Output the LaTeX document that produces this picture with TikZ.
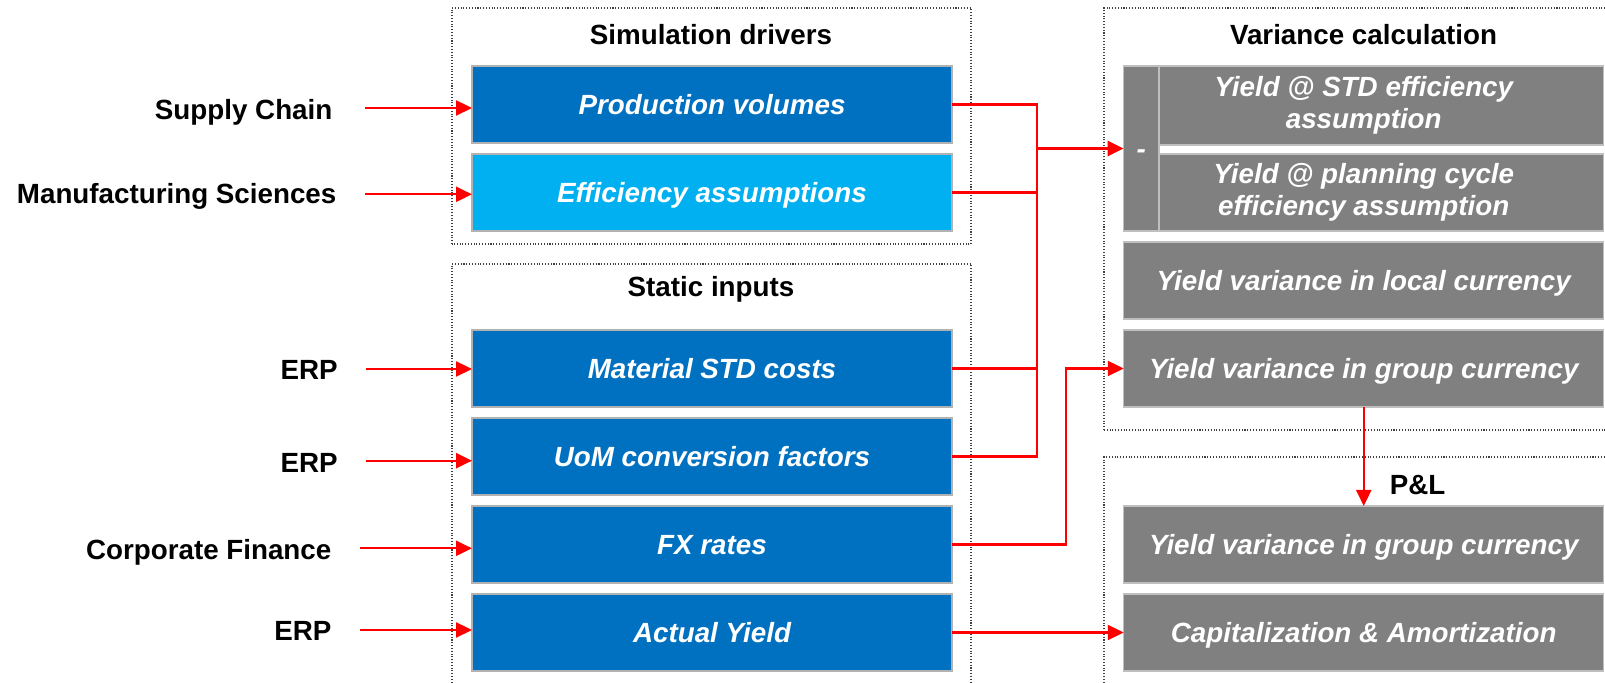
\documentclass[tikz,border=0pt]{standalone}
\usepackage{fontspec}
\setmainfont{Liberation Sans}
\usetikzlibrary{arrows.meta}
\definecolor{bluedark}{RGB}{0,112,192}
\definecolor{bluelight}{RGB}{0,176,240}
\definecolor{greybox}{RGB}{128,128,128}
\definecolor{redline}{RGB}{255,0,0}

\begin{document}
\begin{tikzpicture}[
      box/.style={minimum width=9.6cm,minimum height=1.54cm,inner sep=0pt,outer sep=0pt,draw=black!30,line width=0.6pt,align=center,text=white,font=\fontsize{15.8}{18.2}\selectfont\bfseries\itshape},
      oneline/.style={text height=18.96pt,text depth=7.65pt},
      bluebox/.style={box,oneline,fill=bluedark},
      cyanbox/.style={box,oneline,fill=bluelight},
      greybx/.style={box,oneline,fill=greybox,draw=black!25},
      greybxtwo/.style={box,fill=greybox,draw=black!25,execute at begin node={\rule{0pt}{15pt}}},
      lbl/.style={anchor=base east,inner sep=0pt,font=\fontsize{15.8}{18.2}\selectfont\bfseries},
      ttl/.style={anchor=base,inner sep=0pt,font=\fontsize{15.8}{18.2}\selectfont\bfseries},
      frame/.style={draw=black!75,densely dotted,line width=0.6pt},
      conn/.style={draw=redline,line width=1.3pt},
      arr/.style={conn,-{Triangle[length=0.32cm,width=0.3cm]}}
    ]
      \useasboundingbox (0,0) rectangle (32.1,13.66);
      \clip (0,0) rectangle (32.1,13.66);
      % Dotted frames (run off the page at right and bottom)
      \draw[frame] (9.04,8.78) rectangle (19.42,13.5);
      \draw[frame] (9.04,-0.5) rectangle (19.42,8.38);
      \draw[frame] (22.08,5.06) rectangle (32.6,13.5);
      \draw[frame] (22.08,-0.5) rectangle (32.6,4.52);
      % Frame titles
      \node[ttl] (tsim) at (14.22,12.77) {Simulation drivers};
      \node[ttl] (tstat) at (14.22,7.72) {Static inputs};
      \node[ttl] (tvar) at (27.27,12.77) {Variance calculation};
      \node[ttl] (tpl) at (28.35,3.77) {P\&L};
      % Input boxes
      \node[bluebox] (prod) at (14.24,11.57) {Production volumes};
      \node[cyanbox] (eff) at (14.24,9.81) {Efficiency assumptions};
      \node[bluebox] (mat) at (14.24,6.29) {Material STD costs};
      \node[bluebox] (uom) at (14.24,4.53) {UoM conversion factors};
      \node[bluebox] (fx) at (14.24,2.77) {FX rates};
      \node[bluebox] (act) at (14.24,1.01) {Actual Yield};
      % Variance calculation boxes
      \node[greybxtwo,minimum height=1.58cm] (ystd) at (27.275,11.55) {Yield @ STD efficiency\\assumption};
      \node[greybxtwo] (yplan) at (27.275,9.81) {Yield @ planning cycle\\efficiency assumption};
      \node[greybx,minimum width=0.71cm,minimum height=3.3cm] (minus) at (22.825,10.69) {-};
      \node[greybx] (ylc) at (27.275,8.05) {Yield variance in local currency};
      \node[greybx] (ygc) at (27.275,6.29) {Yield variance in group currency};
      % P&L boxes
      \node[greybx] (plgc) at (27.275,2.77) {Yield variance in group currency};
      \node[greybx] (cap) at (27.275,1.01) {Capitalization \& Amortization};
      % Sources
      \coordinate (s1) at (7.3,11.5);
      \coordinate (s2) at (7.3,9.774);
      \coordinate (s3) at (7.32,6.28);
      \coordinate (s4) at (7.32,4.446);
      \coordinate (s5) at (7.19,2.694);
      \coordinate (s6) at (7.19,1.06);
      \node[lbl] (lsc) at (6.654,11.274) {Supply Chain};
      \node[lbl] (lms) at (6.734,9.58) {Manufacturing Sciences};
      \node[lbl] (lerpa) at (6.76,6.074) {ERP};
      \node[lbl] (lerpb) at (6.76,4.206) {ERP};
      \node[lbl] (lcf) at (6.634,2.474) {Corporate Finance};
      \node[lbl] (lerpc) at (6.634,0.846) {ERP};
      \draw[arr] (s1) -- (s1 -| prod.west);
      \draw[arr] (s2) -- (s2 -| eff.west);
      \draw[arr] (s3) -- (s3 -| mat.west);
      \draw[arr] (s4) -- (s4 -| uom.west);
      \draw[arr] (s5) -- (s5 -| fx.west);
      \draw[arr] (s6) -- (s6 -| act.west);
      % Connectors to the right column
      \coordinate (bus) at (20.74,0);
      \coordinate (fxbend) at (21.32,0);
      \draw[conn] (prod.east) -| (bus |- uom.east) -- (uom.east);
      \draw[conn] (eff.east) -- (bus |- eff.east);
      \draw[conn] (mat.east) -- (bus |- mat.east);
      \draw[arr,line width=1.7pt] (bus |- minus.west) -- (minus.west);
      \draw[arr] (fx.east) -| (fxbend |- ygc.west) -- (ygc.west);
      \draw[arr] (act.east) -- (cap.west);
      \draw[arr] (ygc.south) -- (plgc.north);
    \end{tikzpicture}
\end{document}
